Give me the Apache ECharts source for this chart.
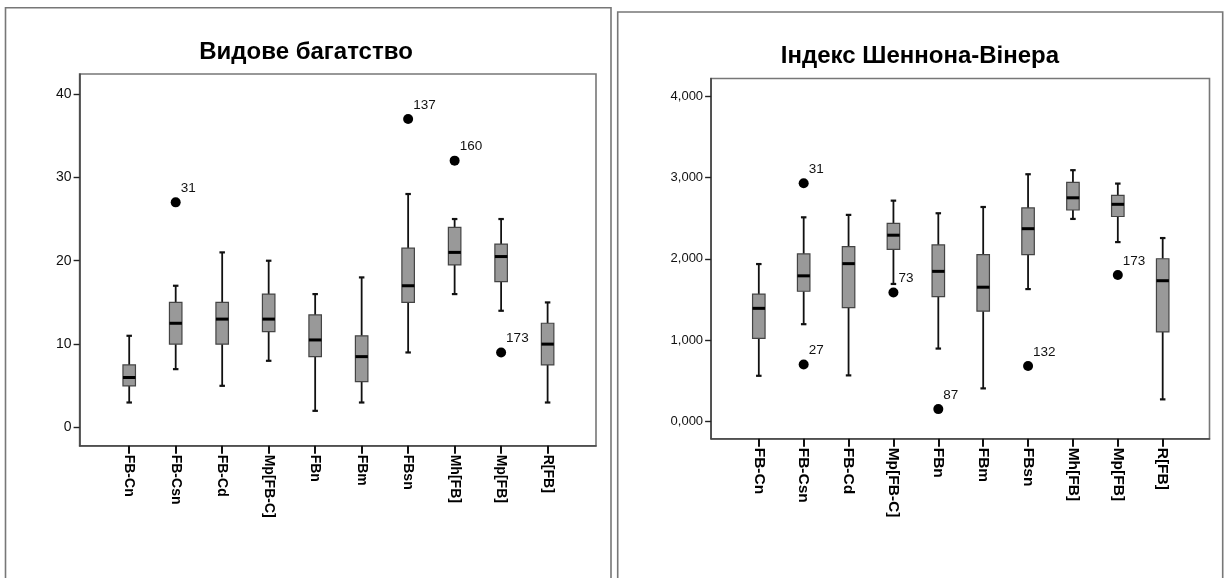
<!DOCTYPE html>
<html>
<head>
<meta charset="utf-8">
<script src="https://cdn.jsdelivr.net/npm/echarts@6/dist/echarts.min.js"></script>
<style>
html,body{margin:0;padding:0;background:#fff;}
#chart{width:1224px;height:578px;}
</style>
</head>
<body>
<div id="chart"></div>
<script>
// ---- data ----
const categories = ['FB-Cn','FB-Csn','FB-Cd','Mp[FB-C]','FBn','FBm','FBsn','Mh[FB]','Mp[FB]','R[FB]'];

const titleRichness = 'Видове багатство';
const titleShannon = 'Індекс Шеннона-Вінера';

// Видове багатство
const richMin    = [3, 7, 5, 8, 2, 3, 9, 16, 14, 3];
const richQ1     = [5, 10, 10, 11.5, 8.5, 5.5, 15, 19.5, 17.5, 7.5];
const richMedian = [6, 12.5, 13, 13, 10.5, 8.5, 17, 21, 20.5, 10];
const richQ3     = [7.5, 15, 15, 16, 13.5, 11, 21.5, 24, 22, 12.5];
const richMax    = [11, 17, 21, 20, 16, 18, 28, 25, 25, 15];
// [category index, value, case label]
const richOutliers = [[1, 27, '31'], [6, 37, '137'], [7, 32, '160'], [8, 9, '173']];
const richTicks = [0, 10, 20, 30, 40];

// Індекс Шеннона-Вінера
const shanMin    = [0.56, 1.195, 0.565, 1.69, 0.895, 0.405, 1.627, 2.49, 2.205, 0.27];
const shanQ1     = [1.02, 1.60, 1.40, 2.115, 1.535, 1.355, 2.05, 2.60, 2.52, 1.10];
const shanMedian = [1.39, 1.79, 1.94, 2.29, 1.845, 1.65, 2.37, 2.75, 2.67, 1.73];
const shanQ3     = [1.565, 2.06, 2.15, 2.435, 2.17, 2.05, 2.625, 2.94, 2.78, 2.00];
const shanMax    = [1.935, 2.51, 2.54, 2.715, 2.56, 2.637, 3.04, 3.09, 2.925, 2.255];
const shanOutliers = [[1, 2.93, '31'], [1, 0.70, '27'], [3, 1.585, '73'], [4, 0.15, '87'], [6, 0.68, '132'], [8, 1.80, '173']];
const shanTicks = [0, 1, 2, 3, 4];

// ---- build ----
function boxData(mn, q1, md, q3, mx) {
  return categories.map((c, i) => [i, mn[i], q1[i], md[i], q3[i], mx[i]]);
}
const catIdx = categories.map((c, i) => i);

function renderBox(params, api) {
  const x = api.value(0);
  const lo = api.coord([x, api.value(1)]);
  const q1 = api.coord([x, api.value(2)]);
  const md = api.coord([x, api.value(3)]);
  const q3 = api.coord([x, api.value(4)]);
  const hi = api.coord([x, api.value(5)]);
  const cx = lo[0];
  const bw = 12.5, cw = 5.5;
  const wStyle = {stroke: '#111', lineWidth: 1.8};
  const cStyle = {stroke: '#111', lineWidth: 2.2};
  return {
    type: 'group',
    children: [
      {type: 'line', shape: {x1: cx, y1: hi[1], x2: cx, y2: q3[1]}, style: wStyle},
      {type: 'line', shape: {x1: cx, y1: q1[1], x2: cx, y2: lo[1]}, style: wStyle},
      {type: 'line', shape: {x1: cx - cw / 2, y1: hi[1], x2: cx + cw / 2, y2: hi[1]}, style: cStyle},
      {type: 'line', shape: {x1: cx - cw / 2, y1: lo[1], x2: cx + cw / 2, y2: lo[1]}, style: cStyle},
      {type: 'rect', shape: {x: cx - bw / 2, y: q3[1], width: bw, height: q1[1] - q3[1]},
        style: {fill: '#999999', stroke: '#444', lineWidth: 1.2}},
      {type: 'line', shape: {x1: cx - bw / 2, y1: md[1], x2: cx + bw / 2, y2: md[1]},
        style: {stroke: '#000', lineWidth: 3}}
    ]
  };
}

const FONT = '"Liberation Sans", Arial, Helvetica, sans-serif';

function xAxisCfg(gridIndex, min, max, fontSize) {
  return {
    type: 'value', gridIndex, min, max,
    axisLine: {show: true, onZero: false, lineStyle: {color: '#444', width: 1.6}},
    axisTick: {show: true, customValues: catIdx, length: 8, lineStyle: {color: '#111', width: 2}},
    axisLabel: {
      show: true, customValues: catIdx, rotate: -90, margin: 9,
      fontFamily: FONT, fontWeight: 'bold', fontSize, color: '#000',
      formatter: v => categories[Math.round(v)]
    },
    splitLine: {show: false}
  };
}
function yAxisCfg(gridIndex, min, max, ticks, fmt, fontSize) {
  return {
    type: 'value', gridIndex, min, max,
    axisLine: {show: true, onZero: false, lineStyle: {color: '#444', width: 1.6}},
    axisTick: {show: true, customValues: ticks, length: 6, lineStyle: {color: '#222', width: 1.4}},
    axisLabel: {show: true, customValues: ticks, margin: 8, fontFamily: FONT, fontSize, color: '#111', formatter: fmt},
    splitLine: {show: false}
  };
}
function outlierSeries(idx, data) {
  return {
    type: 'scatter', xAxisIndex: idx, yAxisIndex: idx,
    data: data.map(d => ({value: [d[0], d[1]], caseLabel: d[2]})),
    symbol: 'circle', symbolSize: 10,
    itemStyle: {color: '#000', opacity: 1},
    label: {
      show: true, position: 'right', distance: 0, offset: [0, -14],
      fontFamily: FONT, fontSize: 13.5, color: '#111',
      formatter: p => p.data.caseLabel
    },
    emphasis: {disabled: true},
    z: 5
  };
}

const chart = echarts.init(document.getElementById('chart'));
chart.setOption({
  animation: false,
  backgroundColor: '#fff',
  graphic: [
    {type: 'rect', shape: {x: 5.5, y: 7.7, width: 605.5, height: 620}, style: {fill: 'none', stroke: '#777', lineWidth: 1.6}, silent: true},
    {type: 'rect', shape: {x: 617.7, y: 12, width: 605, height: 620}, style: {fill: 'none', stroke: '#777', lineWidth: 1.6}, silent: true},
    {type: 'text', x: 306, y: 52, style: {text: titleRichness, font: 'bold 24px ' + FONT, fill: '#000', textAlign: 'center', textVerticalAlign: 'middle'}, silent: true},
    {type: 'text', x: 920, y: 56, style: {text: titleShannon, font: 'bold 24px ' + FONT, fill: '#000', textAlign: 'center', textVerticalAlign: 'middle'}, silent: true}
  ],
  grid: [
    {left: 79.6, top: 74, width: 516.4, height: 371.7, show: true, borderColor: '#777', borderWidth: 1.6, backgroundColor: 'transparent'},
    {left: 711.1, top: 78.5, width: 498.4, height: 360.2, show: true, borderColor: '#777', borderWidth: 1.6, backgroundColor: 'transparent'}
  ],
  xAxis: [
    xAxisCfg(0, -1.067, 10.041, 14),
    xAxisCfg(1, -1.063, 10.043, 15.5)
  ],
  yAxis: [
    yAxisCfg(0, -2.18, 42.39, richTicks, v => String(v), 14),
    yAxisCfg(1, -0.214, 4.218, shanTicks, v => v.toFixed(3).replace('.', ','), 13)
  ],
  series: [
    {type: 'custom', xAxisIndex: 0, yAxisIndex: 0, renderItem: renderBox,
      encode: {x: 0, y: [1, 2, 3, 4, 5]},
      data: boxData(richMin, richQ1, richMedian, richQ3, richMax)},
    outlierSeries(0, richOutliers),
    {type: 'custom', xAxisIndex: 1, yAxisIndex: 1, renderItem: renderBox,
      encode: {x: 0, y: [1, 2, 3, 4, 5]},
      data: boxData(shanMin, shanQ1, shanMedian, shanQ3, shanMax)},
    outlierSeries(1, shanOutliers)
  ]
});
</script>
</body>
</html>
